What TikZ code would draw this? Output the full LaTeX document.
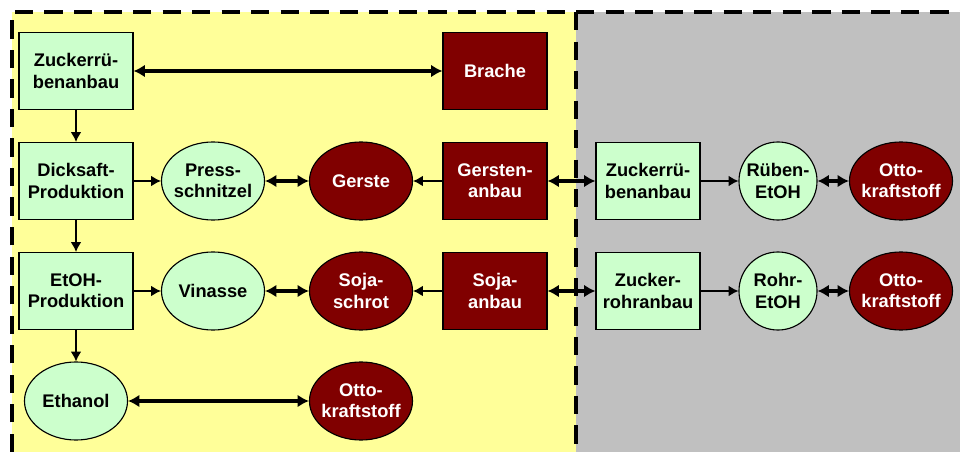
\documentclass[tikz,border=0pt]{standalone}
\usepackage{fontspec}
\setmainfont{Liberation Sans}
\usetikzlibrary{shapes.geometric,arrows.meta}
\definecolor{hgruen}{HTML}{CCFFCC}
\definecolor{drot}{HTML}{800000}
\definecolor{hgelb}{HTML}{FFFF99}
\definecolor{hgrau}{HTML}{C0C0C0}
\tikzstyle{txt}=[align=center, font=\fontsize{13}{15}\selectfont\bfseries]
\tikzstyle{gbox}=[txt, rectangle, draw, line width=0.8pt, fill=hgruen, minimum width=2.6cm, minimum height=1.925cm, inner sep=0pt]
\tikzstyle{rbox}=[gbox, fill=drot, text=white]
\tikzstyle{gell}=[txt, ellipse, draw, line width=0.8pt, fill=hgruen, minimum width=2.575cm, minimum height=1.95cm, inner xsep=-6pt, inner ysep=0pt]
\tikzstyle{rell}=[gell, fill=drot, text=white]
\tikzstyle{kreis}=[gell, circle, minimum size=1.95cm, inner sep=-4pt]
\tikzstyle{flow}=[-{Latex[length=7pt,width=7.5pt]}, line width=0.8pt]
\tikzstyle{tausch}=[{Latex[length=8pt,width=9pt]}-{Latex[length=8pt,width=9pt]}, line width=2.2pt]
\tikzstyle{rand}=[line width=2.5pt, dash pattern=on 13pt off 8pt]

\begin{document}
\begin{tikzpicture}[x=0.025cm, y=-0.025cm]
				\useasboundingbox (0,0) rectangle (960,452);
				
				%Hintergrund
				\fill[hgelb] (12,12) rectangle (576,452);
				\fill[hgrau] (576,12) rectangle (960,452);
				\draw[rand] (12,452) -- (12,12) -- (960,12);
				\draw[rand] (576,12) -- (576,452);
				
				%Linke Spalte
				\draw (76,71) node[gbox, minimum width=2.85cm] (zr1) {Zuckerrü-\\benanbau};
				\draw (76,181) node[gbox, minimum width=2.85cm] (dick) {Dicksaft-\\Produktion};
				\draw (76,291) node[gbox, minimum width=2.85cm] (etoh) {EtOH-\\Produktion};
				\draw (76,401) node[gell] (eth) {Ethanol};
				
				%Nebenprodukte
				\draw (213,181) node[gell] (press) {Press-\\schnitzel};
				\draw (213,291) node[gell] (vin) {Vinasse};
				\draw (361,181) node[rell] (gerste) {Gerste};
				\draw (361,291) node[rell] (schrot) {Soja-\\schrot};
				\draw (361,401) node[rell] (otto1) {Otto-\\kraftstoff};
				
				%Anbau
				\draw (495,71) node[rbox] (brache) {Brache};
				\draw (495,181) node[rbox] (gan) {Gersten-\\anbau};
				\draw (495,291) node[rbox] (san) {Soja-\\anbau};
				
				%Rechte Seite
				\draw (648,181) node[gbox] (zr2) {Zuckerrü-\\benanbau};
				\draw (648,291) node[gbox] (zrohr) {Zucker-\\rohranbau};
				\draw (778,181) node[kreis] (rueben) {Rüben-\\EtOH};
				\draw (778,291) node[kreis] (rohr) {Rohr-\\EtOH};
				\draw (901,181) node[rell] (otto2) {Otto-\\kraftstoff};
				\draw (901,291) node[rell] (otto3) {Otto-\\kraftstoff};
				
				\draw[flow] (zr1) -- (dick);
				\draw[flow] (dick) -- (etoh);
				\draw[flow] (etoh) -- (eth);
				\draw[flow] (dick) -- (press);
				\draw[flow] (etoh) -- (vin);
				\draw[flow] (gan) -- (gerste);
				\draw[flow] (san) -- (schrot);
				\draw[flow] (zr2) -- (rueben);
				\draw[flow] (zrohr) -- (rohr);
				
				\draw[tausch] (zr1) -- (brache);
				\draw[tausch] (press) -- (gerste);
				\draw[tausch] (vin) -- (schrot);
				\draw[tausch] (eth) -- (otto1);
				\draw[tausch] (gan) -- (zr2);
				\draw[tausch] (san) -- (zrohr);
				\draw[tausch] (rueben) -- (otto2);
				\draw[tausch] (rohr) -- (otto3);
			\end{tikzpicture}
\end{document}
